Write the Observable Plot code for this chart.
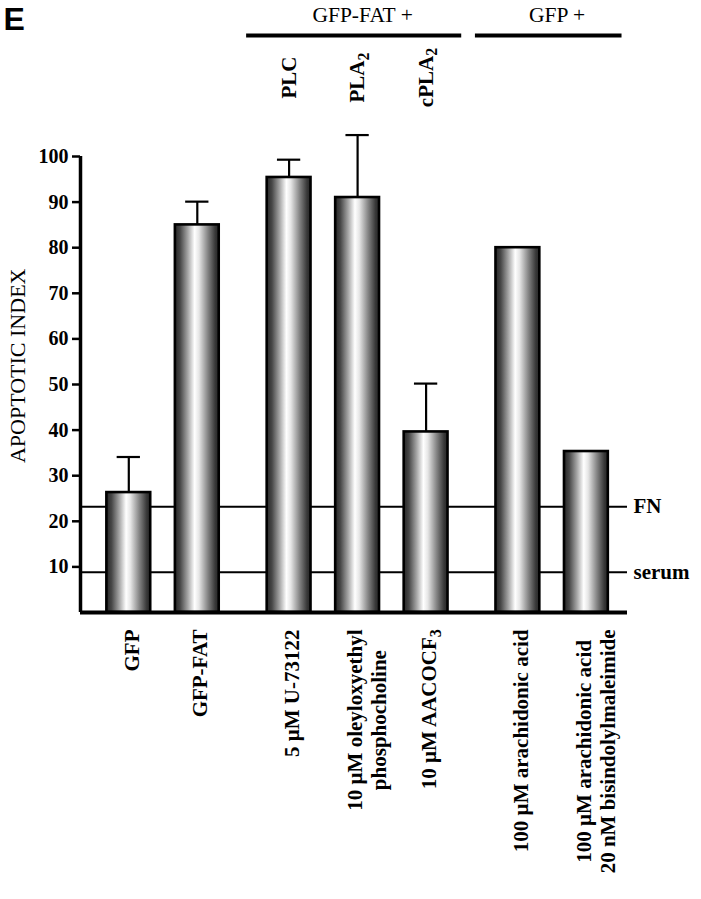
<!DOCTYPE html>
<html><head><meta charset="utf-8">
<script src="https://cdn.jsdelivr.net/npm/d3@7"></script>
<script src="https://cdn.jsdelivr.net/npm/@observablehq/plot@0.6"></script>
<style>
html,body{margin:0;padding:0;background:#fff;}
svg{display:block;}
[aria-label^="y-axis"] text{font-family:'Liberation Serif','Times New Roman',serif;font-weight:bold;}
[aria-label^="y-axis"] line, [aria-label^="y-axis"] path {stroke-width:2.5px;stroke:#000;}
[aria-label="ylabel"] text, text[aria-label="ylabel"] {letter-spacing:1.2px;}
</style>
</head><body>
<script>
// ---- data ----
const categories = [
  "GFP",
  "GFP-FAT",
  "5 µM U-73122",
  "10 µM oleyloxyethyl\nphosphocholine",
  "10 µM AACOCF₃",
  "100 µM arachidonic acid",
  "100 µM arachidonic acid\n20 nM bisindolylmaleimide"
];
const groupIndex = [0, 0, 1, 1, 1, 2, 2];
const values = [26.3, 85.0, 95.4, 91.0, 39.6, 80.0, 35.3];
const errors = [7.8, 5.1, 3.9, 13.7, 10.6, null, null];
const targets = ["", "", "PLC", "PLA₂", "cPLA₂", "", ""];
const groupLabels = ["GFP-FAT +", "GFP +"];
const groupMembers = [[2, 3, 4], [5, 6]];
const refLabels = ["FN", "serum"];
const refValues = [23.2, 8.8];
const yTicks = [10, 20, 30, 40, 50, 60, 70, 80, 90, 100];
const yLabel = "APOPTOTIC INDEX";
const panelLetter = "E";

// ---- layout ----
const W = 701, H = 899;
const mL = 80, mR = 74, mT = 156, mB = 287;
const serif = "'Liberation Serif', 'Times New Roman', serif";
const sans = "'Liberation Sans', Arial, sans-serif";
const labelSize = 21;
const gapUnit = 0.34;
const half = 0.32, capHalf = 0.17;

const pos = categories.map((_, i) => i + groupIndex[i] * gapUnit);
const bars = categories.map((c, i) => ({label: c, pos: pos[i], value: values[i], err: errors[i], target: targets[i]}));
const errBars = bars.filter(d => d.err != null);
const refs = refLabels.map((l, i) => ({label: l, value: refValues[i]}));
const groups = groupLabels.map((g, k) => {
  const ps = groupMembers[k].map(i => pos[i]);
  const lo = Math.min(...ps), hi = Math.max(...ps);
  return {label: g, x1: lo - 0.62, x2: hi + 0.52, mid: (lo + hi) / 2};
});
const xDomain = [pos[0] - 0.705, pos[pos.length - 1] + 0.6];

// measure label lengths so multi-line labels are centred as a block
const ctx = document.createElement("canvas").getContext("2d");
ctx.font = `bold ${labelSize}px ${serif}`;
const maxLen = s => Math.max(...s.split("\n").map(l => ctx.measureText(l).width));
const topGap = 17;

const bottomLabels = bars.map(d => {
  const n = d.label.split("\n").length;
  return Plot.text([d], {
    x: "pos", text: "label", frameAnchor: "bottom",
    rotate: -90, textAnchor: "middle", lineAnchor: "middle",
    lineHeight: 1.14, fontSize: labelSize, fontWeight: "bold", fontFamily: serif,
    dy: topGap + maxLen(d.label) / 2, dx: n > 1 ? 8.5 : 2.5
  });
});

const chart = Plot.plot({
  width: W, height: H,
  marginLeft: mL, marginRight: mR, marginTop: mT, marginBottom: mB,
  style: {fontFamily: serif, fontSize: "20px", fontWeight: "bold", background: "#fff", color: "#000", overflow: "visible"},
  x: {domain: xDomain, axis: null},
  y: {domain: [0, 100], ticks: yTicks, tickSize: 8, tickPadding: 4, label: null},
  marks: [
    Plot.ruleY(refs, {y: "value", strokeWidth: 2, stroke: "#000"}),
    Plot.rect(bars, {x1: d => d.pos - half, x2: d => d.pos + half, y1: 0, y2: "value", fill: "url(#cyl)", stroke: "#000", strokeWidth: 2.6}),
    Plot.ruleX(errBars, {x: "pos", y1: "value", y2: d => d.value + d.err, stroke: "#000", strokeWidth: 2.2}),
    Plot.ruleY(errBars, {y: d => d.value + d.err, x1: d => d.pos - capHalf, x2: d => d.pos + capHalf, stroke: "#000", strokeWidth: 2.2}),
    Plot.ruleY([0], {stroke: "#000", strokeWidth: 4}),
    Plot.ruleX([xDomain[0]], {y1: 0, y2: 100, stroke: "#000", strokeWidth: 3.5}),
    Plot.text(refs, {y: "value", text: "label", frameAnchor: "right", textAnchor: "start", dx: 6, fontSize: labelSize, fontWeight: "bold", fontFamily: serif}),
    Plot.text(bars.filter(d => d.target), {x: "pos", text: "target", frameAnchor: "top", rotate: -90, textAnchor: "middle", lineAnchor: "middle", dy: -79, fontSize: labelSize, fontWeight: "bold", fontFamily: serif}),
    Plot.text(groups, {x: "mid", text: "label", frameAnchor: "top", lineAnchor: "bottom", dy: -135, dx: 5, fontSize: 21.5, fontWeight: "normal", fontFamily: serif}),
    Plot.ruleY(groups, {x1: "x1", x2: "x2", y: 100, dy: 35 - mT, stroke: "#000", strokeWidth: 4}),
    ...bottomLabels,
    Plot.text([yLabel], {frameAnchor: "left", rotate: -90, textAnchor: "middle", lineAnchor: "middle", dx: -63, dy: -18.7, fontSize: 22, fontWeight: "normal", fontFamily: serif, ariaLabel: "ylabel"}),
    Plot.text([panelLetter], {frameAnchor: "top-left", textAnchor: "start", lineAnchor: "bottom", dx: 3 - mL, dy: 29 - mT, fontSize: 32, fontWeight: "bold", fontFamily: sans})
  ]
});

const ns = "http://www.w3.org/2000/svg";
const svgEl = chart.tagName.toLowerCase() === "svg" ? chart : chart.querySelector("svg");

// cylinder-like gradient used for the bar fill
const defs = document.createElementNS(ns, "defs");
const lg = document.createElementNS(ns, "linearGradient");
lg.setAttribute("id", "cyl");
lg.setAttribute("x1", "0"); lg.setAttribute("y1", "0");
lg.setAttribute("x2", "1"); lg.setAttribute("y2", "0");
[[0, "#262626"], [0.12, "#474747"], [0.3, "#a8a8a8"], [0.45, "#ffffff"], [0.55, "#e6e6e6"], [0.75, "#858585"], [0.92, "#383838"], [1, "#262626"]]
  .forEach(([o, c]) => {
    const s = document.createElementNS(ns, "stop");
    s.setAttribute("offset", o);
    s.setAttribute("stop-color", c);
    lg.appendChild(s);
  });
defs.appendChild(lg);
svgEl.insertBefore(defs, svgEl.firstChild);

// render subscript digits as real smaller, lowered digits
const subMap = {"₂": "2", "₃": "3"};
svgEl.querySelectorAll("text, tspan").forEach(el => {
  if (el.children.length) return;
  const t = el.textContent;
  if (!/[₂₃]/.test(t)) return;
  el.textContent = "";
  for (const part of t.split(/([₂₃])/)) {
    if (!part) continue;
    if (subMap[part]) {
      const ts = document.createElementNS(ns, "tspan");
      ts.setAttribute("font-size", "0.76em");
      ts.setAttribute("dy", "0.28em");
      ts.textContent = subMap[part];
      el.appendChild(ts);
    } else {
      el.appendChild(document.createTextNode(part));
    }
  }
});
document.body.appendChild(chart);
</script>
</body></html>
